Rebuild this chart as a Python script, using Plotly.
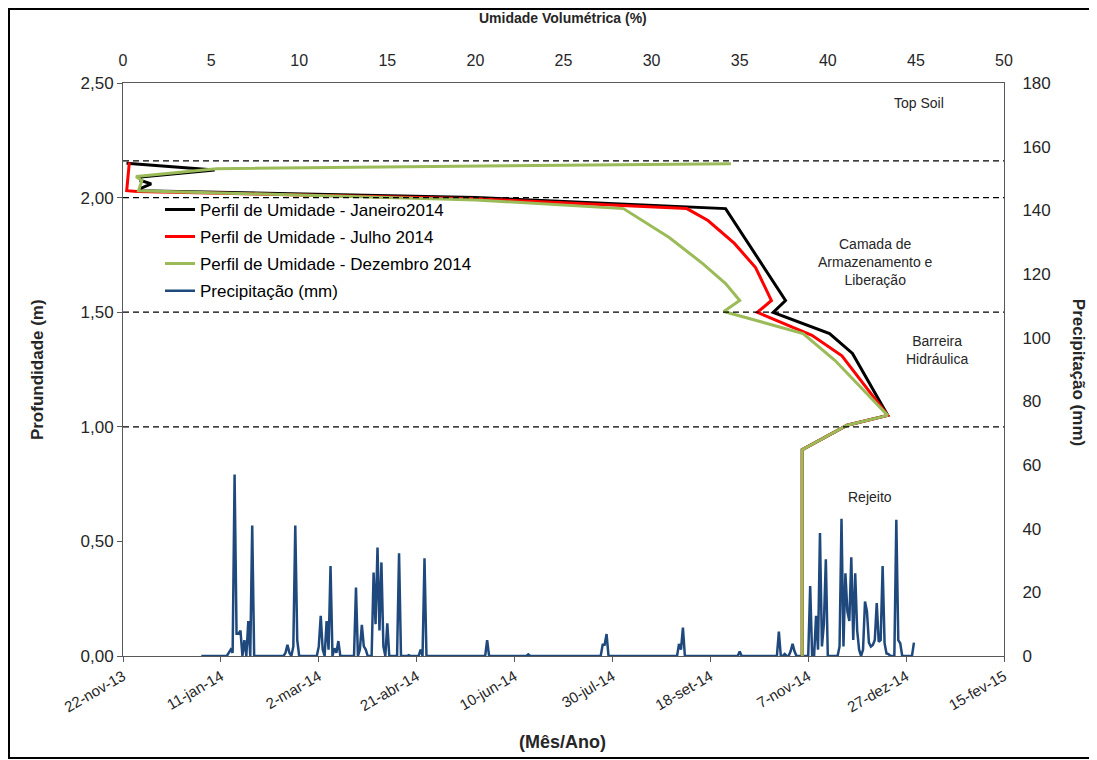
import pandas as pd
import plotly.graph_objects as go

# perfis de umidade: umidade volumetrica (%) x profundidade (m)
jan_umid = [0.2, 5.2, 1.0, 1.0, 1.6, 1.0, 0.9, 20.0, 34.2, 37.6, 36.9, 40.1, 41.4, 43.4, 41.1, 38.55, 38.55]
jan_prof = [2.15, 2.12, 2.09, 2.075, 2.06, 2.04, 2.03, 2.0, 1.952, 1.551, 1.499, 1.407, 1.32, 1.05, 1.007, 0.90, 0.0]

jul_umid = [0.36, 0.21, 0.8, 20.0, 32.0, 33.2, 34.7, 35.9, 36.8, 36.0, 39.1, 40.8, 43.4, 41.1, 38.55, 38.55]
jul_prof = [2.154, 2.03, 2.027, 1.995, 1.952, 1.90, 1.80, 1.695, 1.551, 1.499, 1.399, 1.31, 1.05, 1.007, 0.90, 0.0]

dez_umid = [34.5, 5.3, 0.74, 1.07, 0.88, 20.0, 28.4, 31.0, 32.9, 34.2, 35.0, 34.1, 38.6, 40.4, 43.4, 41.1, 38.55, 38.55]
dez_prof = [2.148, 2.126, 2.092, 2.074, 2.03, 1.99, 1.952, 1.826, 1.712, 1.625, 1.551, 1.503, 1.407, 1.29, 1.05, 1.007, 0.90, 0.0]

# precipitacao diaria 2014 (dias sem chuva = 0); offset em dias a partir de 1-jan-14
rain_offset = [14, 15, 16, 17, 18, 19, 20, 22, 24, 26,
               43, 44, 45, 47, 48, 49, 60, 61, 62, 64, 65, 66, 68, 69, 70,
               79, 81, 82, 83, 84, 88, 89, 90, 91, 92, 93, 95, 101, 106, 112, 114,
               146, 167, 205, 206, 207, 244, 245, 246, 275, 295, 298, 301, 302, 303,
               311, 314, 315, 316, 317, 318, 319, 326, 327, 328, 329, 330, 331, 332,
               333, 334, 335, 336, 338, 339, 340, 341, 342, 343, 344, 345, 346, 347,
               348, 349, 350, 351, 355, 356, 357, 364]
rain_mm = [1, 2, 1, 57, 7, 7, 8, 5, 11, 41,
           1, 3.5, 1, 3, 41, 5, 3, 12.6, 2, 11, 2, 28.3, 2.4, 1, 4.7,
           21.5, 2, 9.8, 3, 2, 26.2, 10, 34.1, 8, 29.4, 3, 10.3, 32.3, 0.3, 2, 30.7,
           5, 0.5, 3.5, 3.5, 6.9, 3.8, 2, 8.9, 1.4, 7.7, 0.6, 1.5, 3.8, 1.5,
           22, 12.6, 2, 38.6, 3, 10, 30.4, 3, 43.1, 3, 26, 14, 11, 31,
           5, 26, 8, 2, 2, 17.1, 14, 4.2, 3, 3.5, 5, 16.6, 4.5, 5,
           28.3, 4, 0.8, 0.6, 42.8, 5, 4, 4.2]

layer_depths = [2.16, 2.0, 1.5, 1.0]

date_ticks = ['2013-11-22', '2014-01-11', '2014-03-02', '2014-04-21', '2014-06-10',
              '2014-07-30', '2014-09-18', '2014-11-07', '2014-12-27', '2015-02-15']
date_labels = ['22-nov-13', '11-jan-14', '2-mar-14', '21-abr-14', '10-jun-14',
               '30-jul-14', '18-set-14', '7-nov-14', '27-dez-14', '15-fev-15']

days = pd.date_range('2014-01-01', '2014-12-31', freq='D').strftime('%Y-%m-%d').tolist()
rain = [0.0] * len(days)
for o, v in zip(rain_offset, rain_mm):
    rain[o] = v

FONT = 'Liberation Sans, Arial, sans-serif'
TXT = '#262626'
AX = '#595959'

fig = go.Figure()
fig.add_trace(go.Scatter(x=jan_umid, y=jan_prof, mode='lines', name='Perfil de Umidade - Janeiro2014',
                         line=dict(color='black', width=3), xaxis='x2', yaxis='y2', legendgroup='a'))
fig.add_trace(go.Scatter(x=jul_umid, y=jul_prof, mode='lines', name='Perfil de Umidade - Julho 2014',
                         line=dict(color='#FF0000', width=3), xaxis='x2', yaxis='y2', legendgroup='b'))
fig.add_trace(go.Scatter(x=dez_umid, y=dez_prof, mode='lines', name='Perfil de Umidade - Dezembro 2014',
                         line=dict(color='#9BBB59', width=3), xaxis='x2', yaxis='y2', legendgroup='c'))
fig.add_trace(go.Scatter(x=days, y=rain, mode='lines', name='Precipitação (mm)',
                         line=dict(color='#1F497D', width=2.5), xaxis='x', yaxis='y', legendgroup='d'))

for d in layer_depths:
    fig.add_shape(type='line', xref='paper', x0=0, x1=1, yref='y2', y0=d, y1=d,
                  line=dict(color='black', width=1.3, dash='6px,4px'))

# moldura do grafico
fig.add_shape(type='rect', xref='paper', yref='paper', x0=-0.1294, x1=1.1022, y0=-0.178, y1=1.1291,
              line=dict(color='black', width=2))

labels = [
    ('Top Soil', 0.9035, 0.965),
    ('Camada de<br>Armazenamento e<br>Liberação', 0.8536, 0.6876),
    ('Barreira<br>Hidráulica', 0.924, 0.534),
    ('Rejeito', 0.848, 0.2775),
]
for t, x, y in labels:
    fig.add_annotation(text=t, x=x, y=y, xref='paper', yref='paper', showarrow=False,
                       xanchor='center', yanchor='middle', font=dict(size=14, color=TXT))

titles = [
    ('<b>Umidade Volumétrica (%)</b>', 0.4994, 1.1134, 0, 14),
    ('<b>(Mês/Ano)</b>', 0.4994, -0.150, 0, 18),
    ('<b>Profundidade (m)</b>', -0.0976, 0.499, -90, 17),
    ('<b>Precipitação (mm)</b>', 1.084, 0.496, 90, 17),
]
for t, x, y, ang, sz in titles:
    fig.add_annotation(text=t, x=x, y=y, xref='paper', yref='paper', showarrow=False, textangle=ang,
                       xanchor='center', yanchor='middle', font=dict(size=sz, color=TXT))

common = dict(showgrid=False, zeroline=False, automargin=False)
fig.update_layout(
    width=1089, height=752,
    margin=dict(l=115, r=93, t=75, b=104, autoexpand=False),
    paper_bgcolor='white', plot_bgcolor='white',
    font=dict(family=FONT, size=16, color=TXT),
    separators=',.',
    showlegend=True,
    legend=dict(x=0.042, y=0.81, xanchor='left', yanchor='top', bgcolor='rgba(0,0,0,0)',
                font=dict(size=17, color='black'), traceorder='grouped', tracegroupgap=2),
    # precipitacao: datas (base) x mm (direita)
    xaxis=dict(type='date', range=['2013-11-22', '2015-02-15'], tickvals=date_ticks, ticktext=date_labels,
               tickangle=-30, tickfont=dict(size=15), ticks='outside', ticklen=5, tickcolor=AX,
               showline=True, linecolor=AX, anchor='y', **common),
    yaxis=dict(range=[0, 180], dtick=20, side='right', anchor='x', ticks='', tickfont=dict(size=17),
               showline=True, linecolor=AX, ticklabelstandoff=14, **common),
    # perfis: umidade (topo) x profundidade (esquerda)
    xaxis2=dict(range=[0, 50], dtick=5, overlaying='x', side='top', anchor='y2', ticks='',
                showline=True, linecolor=AX, ticklabelstandoff=10, **common),
    yaxis2=dict(range=[0, 2.5], dtick=0.5, tickformat='.2f', overlaying='y', side='left', anchor='x2',
                tickfont=dict(size=17), ticks='outside', ticklen=5, tickcolor=AX,
                showline=True, linecolor=AX, **common),
    # marcas extras sem rotulo
    xaxis3=dict(range=[0, 50], dtick=5, overlaying='x', side='bottom', anchor='y', ticks='outside',
                ticklen=5, tickcolor=AX, showticklabels=False, showline=False, **common),
    yaxis3=dict(range=[0, 180], dtick=20, overlaying='y', side='left', anchor='x', ticks='inside',
                ticklen=6, tickcolor=AX, showticklabels=False, showline=False, **common),
)

fig.write_html("out.html")
